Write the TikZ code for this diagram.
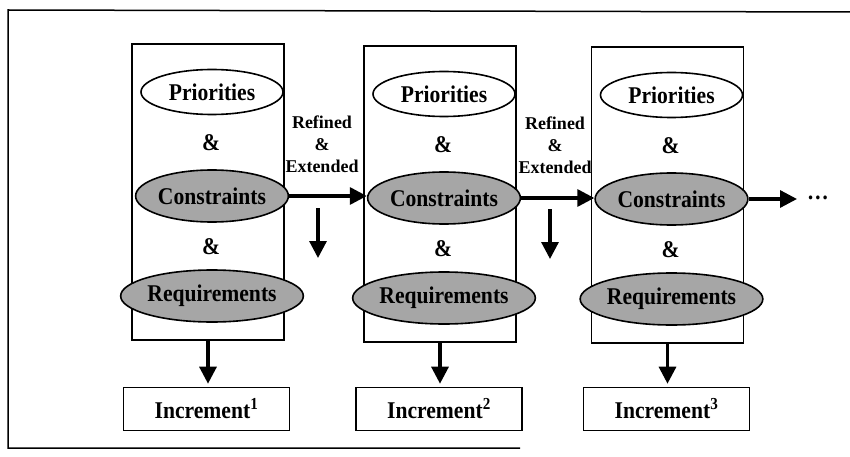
\documentclass[tikz,border=0pt]{standalone}
\usepackage{fontspec}
\setmainfont{Liberation Serif}
\newfontfamily\headfont[FakeStretch=0.9]{Liberation Serif}
\usetikzlibrary{shapes.geometric,arrows.meta}

\begin{document}
\begin{tikzpicture}[x=1pt,y=-1pt,
  stage/.style={draw,line width=1.6pt,minimum width=152pt,minimum height=296pt,inner sep=0pt},
  oval/.style={ellipse,draw,line width=1.6pt,inner sep=0pt,
    font=\headfont\bfseries\fontsize{24}{24}\selectfont},
  plainoval/.style={oval,fill=white,minimum width=142pt,minimum height=45pt},
  greyoval/.style={oval,fill=black!35,minimum width=150pt,minimum height=52pt},
  amp/.style={font=\headfont\bfseries\fontsize{24}{24}\selectfont},
  note/.style={align=center,font=\bfseries\fontsize{18}{22}\selectfont},
  inc/.style={draw,line width=1.6pt,minimum width=166pt,minimum height=43pt,inner sep=0pt,
    font=\headfont\bfseries\fontsize{24}{24}\selectfont},
  flow/.style={line width=3.2pt,-{Triangle[length=17pt,width=17pt]}}]

\useasboundingbox (0,0) rectangle (850,457);

% outer frame (open on the right)
\draw[line width=1.5pt] (850,12) -- (8,10) -- (8,448) -- (520,448);

% the three stages with their ovals
\foreach \i/\cx/\top in {1/208/44,2/440/46,3/667.5/47}{
  \node[stage] (s\i) at (\cx,\top+148) {};
  \node[plainoval] (p\i) at (\cx+4,\top+48) {Priorities};
  \node[amp] (a\i) at (\cx+3,\top+99) {\&};
  \node[greyoval] (c\i) at (\cx+4,\top+152) {Constraints};
  \node[amp] (b\i) at (\cx+3,\top+203) {\&};
  \node[greyoval] (r\i) at (\cx+4,\top+252) {Requirements};
}

% increments
\node[inc] (i1) at (206.5,409) {Increment\textsuperscript{1}};
\node[inc] (i2) at (439,409) {Increment\textsuperscript{2}};
\node[inc] (i3) at (666.5,409) {Increment\textsuperscript{3}};

\foreach \i in {1,2,3}{
  \draw[flow,shorten >=3pt] (s\i.south) -- (s\i.south |- i\i.north);
}

% refinement between stages
\node[note] (n1) at (322,144) {Refined\\\&\\Extended};
\node[note] (n2) at (555,145) {Refined\\\&\\Extended};

\draw[flow] (c1.east) -- (c1.east -| c2.west);
\draw[flow] (c2.east) -- (c2.east -| c3.west);

\coordinate (d1a) at (318,208);
\coordinate (d1b) at (318,258);
\coordinate (d2a) at (550,209);
\coordinate (d2b) at (550,259);
\draw[flow] (d1a) -- (d1b);
\draw[flow] (d2a) -- (d2b);

% continuation
\coordinate (more) at (797,199);
\draw[flow] (c3.east) -- (c3.east -| more);
\node[font=\headfont\bfseries\fontsize{24}{24}\selectfont] (dots) at (818,198) {\dots};

\end{tikzpicture}
\end{document}
